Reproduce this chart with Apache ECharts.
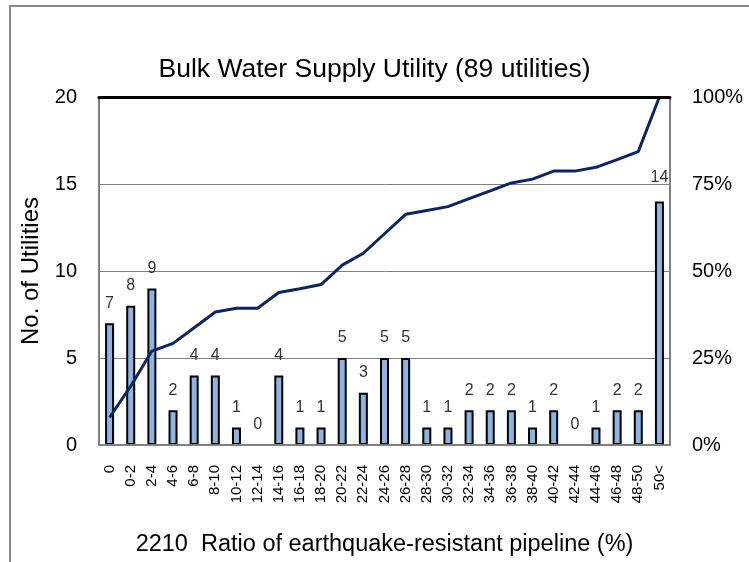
<!DOCTYPE html>
<html>
<head>
<meta charset="utf-8">
<script src="https://cdn.jsdelivr.net/npm/echarts@6/dist/echarts.min.js"></script>
<style>
html,body{margin:0;padding:0;background:#fff;}
#chart{width:749px;height:562px;}
</style>
</head>
<body>
<div id="chart"></div>
<script>
var categories = ['0','0-2','2-4','4-6','6-8','8-10','10-12','12-14','14-16','16-18','18-20','20-22','22-24','24-26','26-28','28-30','30-32','32-34','34-36','36-38','38-40','40-42','42-44','44-46','46-48','48-50','50<'];
var counts = [7,8,9,2,4,4,1,0,4,1,1,5,3,5,5,1,1,2,2,2,1,2,0,1,2,2,14];
var cumulativePct = [7.9,16.9,27.0,29.2,33.7,38.2,39.3,39.3,43.8,44.9,46.1,51.7,55.1,60.7,66.3,67.4,68.5,70.8,73.0,75.3,76.4,78.7,78.7,79.8,82.0,84.3,100];
var leftTicks = [0,5,10,15,20];
var rightTicks = ['0%','25%','50%','75%','100%'];
var titleText = 'Bulk Water Supply Utility (89 utilities)';
var yName = 'No. of Utilities';
var xName = '2210  Ratio of earthquake-resistant pipeline (%)';

var FONT = "'Liberation Sans', Arial, sans-serif";
var chart = echarts.init(document.getElementById('chart'), null, {renderer:'canvas'});

var barData = counts.map(function(v, i){
  var item = {value: v};
  if (v === 0) item.itemStyle = {borderWidth: 0};
  if (i === counts.length - 1) item.label = {distance: 16};
  return item;
});

chart.setOption({
  animation: false,
  backgroundColor: '#fff',
  title: {
    text: titleText,
    left: 'center',
    top: 51,
    textStyle: {fontFamily: FONT, fontSize: 26.5, fontWeight: 'normal', color: '#000'}
  },
  graphic: [{
    type: 'rect',
    shape: {x: 10, y: 6, width: 800, height: 700},
    style: {fill: 'none', stroke: '#888', lineWidth: 2},
    silent: true
  }],
  grid: {left: 99, right: 79, top: 97, bottom: 115},
  xAxis: [{
    type: 'category',
    data: categories,
    position: 'bottom',
    axisLine: {show: true, onZero: false, lineStyle: {color: '#808080', width: 2}},
    axisTick: {show: false},
    axisLabel: {rotate: 90, margin: 20, fontFamily: FONT, fontSize: 15, color: '#000', interval: 0},
    name: xName,
    nameLocation: 'middle',
    nameGap: 88,
    nameTextStyle: {fontFamily: FONT, fontSize: 23.5, color: '#000'},
    z: 5
  }, {
    type: 'category',
    data: categories,
    position: 'top',
    axisLine: {show: true, onZero: false, lineStyle: {color: '#000', width: 3}},
    axisTick: {show: false},
    axisLabel: {show: false},
    z: 10
  }],
  yAxis: [{
    type: 'value',
    min: leftTicks[0],
    max: leftTicks[leftTicks.length - 1],
    interval: leftTicks[1] - leftTicks[0],
    axisLine: {show: true, lineStyle: {color: '#808080', width: 2}},
    axisTick: {show: false},
    axisLabel: {margin: 22, fontFamily: FONT, fontSize: 20, color: '#000'},
    splitLine: {show: true, lineStyle: {color: '#808080', width: 1}},
    name: yName,
    nameLocation: 'middle',
    nameGap: 53,
    nameTextStyle: {fontFamily: FONT, fontSize: 24, color: '#000'}
  }, {
    type: 'value',
    min: 0,
    max: 100,
    interval: 25,
    position: 'right',
    axisLine: {show: true, lineStyle: {color: '#808080', width: 2}},
    axisTick: {show: false},
    axisLabel: {
      margin: 22, fontFamily: FONT, fontSize: 20, color: '#000',
      formatter: function(v){ return rightTicks[Math.round(v / 25)]; }
    },
    splitLine: {show: false}
  }],
  series: [{
    type: 'bar',
    data: barData,
    xAxisIndex: 0,
    yAxisIndex: 0,
    barWidth: 9,
    itemStyle: {color: '#8DB4E2', borderColor: '#000', borderWidth: 2},
    label: {show: true, position: 'top', distance: 12, fontFamily: FONT, fontSize: 16, color: '#333'},
    z: 2
  }, {
    type: 'line',
    data: cumulativePct,
    xAxisIndex: 0,
    yAxisIndex: 1,
    showSymbol: false,
    symbol: 'none',
    lineStyle: {color: '#0A2466', width: 3},
    z: 3
  }]
});
</script>
</body>
</html>
